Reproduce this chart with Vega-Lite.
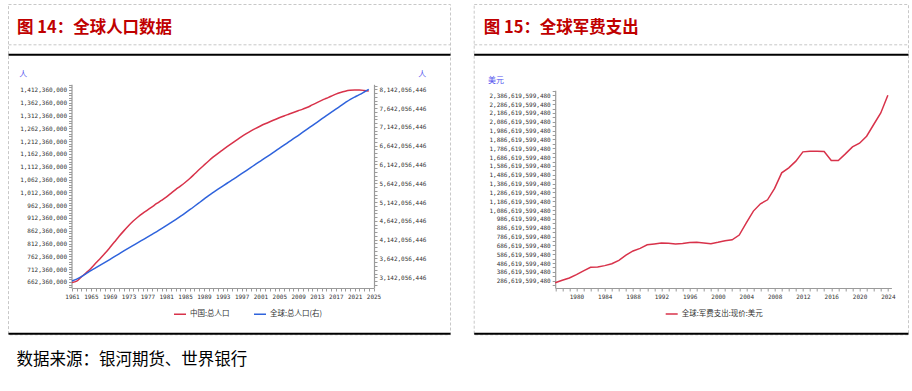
{
  "$schema": "https://vega.github.io/schema/vega-lite/v6.json",
  "background": "white",
  "padding": {"left": 7, "top": 3, "right": 0, "bottom": 24},
  "title": {"text": "数据来源：银河期货、世界银行", "orient": "bottom", "anchor": "start", "frame": "bounds", "offset": 17, "dx": 9, "font": "Noto Sans CJK SC", "fontSize": 16.5, "fontWeight": "normal", "color": "#000000"},
  "config": {
    "view": {"stroke": null},
    "axis": {
      "grid": false,
      "labelFont": "DejaVu Sans Mono",
      "labelFontSize": 6,
      "labelColor": "#333333",
      "domainColor": "#9a9a9a",
      "domainWidth": 1.2,
      "tickColor": "#9a9a9a",
      "tickSize": 3,
      "labelPadding": 2,
      "labelOverlap": false,
      "labelFlush": false,
      "labelBound": false,
      "titleFont": "Noto Sans CJK SC",
      "titleFontSize": 8,
      "titleFontWeight": "normal",
      "titleColor": "#5555ee",
      "titleAngle": 0,
      "titleAlign": "center",
      "titleBaseline": "middle"
    },
    "legend": {
      "title": null,
      "symbolType": "stroke",
      "symbolStrokeWidth": 1.5,
      "symbolSize": 144,
      "labelFont": "Noto Sans CJK SC",
      "labelFontSize": 7.5,
      "labelColor": "#333333",
      "labelOffset": 3,
      "columnPadding": 21
    }
  },
  "datasets": {
    "china": [
      {"year": 1961, "series": "中国:总人口", "value": 660330000},
      {"year": 1962, "series": "中国:总人口", "value": 665770000},
      {"year": 1963, "series": "中国:总人口", "value": 682340000},
      {"year": 1964, "series": "中国:总人口", "value": 698360000},
      {"year": 1965, "series": "中国:总人口", "value": 715190000},
      {"year": 1966, "series": "中国:总人口", "value": 735400000},
      {"year": 1967, "series": "中国:总人口", "value": 754550000},
      {"year": 1968, "series": "中国:总人口", "value": 774510000},
      {"year": 1969, "series": "中国:总人口", "value": 796030000},
      {"year": 1970, "series": "中国:总人口", "value": 818320000},
      {"year": 1971, "series": "中国:总人口", "value": 841110000},
      {"year": 1972, "series": "中国:总人口", "value": 862030000},
      {"year": 1973, "series": "中国:总人口", "value": 881940000},
      {"year": 1974, "series": "中国:总人口", "value": 900350000},
      {"year": 1975, "series": "中国:总人口", "value": 916400000},
      {"year": 1976, "series": "中国:总人口", "value": 930690000},
      {"year": 1977, "series": "中国:总人口", "value": 943460000},
      {"year": 1978, "series": "中国:总人口", "value": 956170000},
      {"year": 1979, "series": "中国:总人口", "value": 969010000},
      {"year": 1980, "series": "中国:总人口", "value": 981240000},
      {"year": 1981, "series": "中国:总人口", "value": 993890000},
      {"year": 1982, "series": "中国:总人口", "value": 1008630000},
      {"year": 1983, "series": "中国:总人口", "value": 1023310000},
      {"year": 1984, "series": "中国:总人口", "value": 1036830000},
      {"year": 1985, "series": "中国:总人口", "value": 1051040000},
      {"year": 1986, "series": "中国:总人口", "value": 1066790000},
      {"year": 1987, "series": "中国:总人口", "value": 1084040000},
      {"year": 1988, "series": "中国:总人口", "value": 1101630000},
      {"year": 1989, "series": "中国:总人口", "value": 1118650000},
      {"year": 1990, "series": "中国:总人口", "value": 1135190000},
      {"year": 1991, "series": "中国:总人口", "value": 1150780000},
      {"year": 1992, "series": "中国:总人口", "value": 1164970000},
      {"year": 1993, "series": "中国:总人口", "value": 1178440000},
      {"year": 1994, "series": "中国:总人口", "value": 1191840000},
      {"year": 1995, "series": "中国:总人口", "value": 1204860000},
      {"year": 1996, "series": "中国:总人口", "value": 1217550000},
      {"year": 1997, "series": "中国:总人口", "value": 1230080000},
      {"year": 1998, "series": "中国:总人口", "value": 1241940000},
      {"year": 1999, "series": "中国:总人口", "value": 1252740000},
      {"year": 2000, "series": "中国:总人口", "value": 1262650000},
      {"year": 2001, "series": "中国:总人口", "value": 1271850000},
      {"year": 2002, "series": "中国:总人口", "value": 1280400000},
      {"year": 2003, "series": "中国:总人口", "value": 1288400000},
      {"year": 2004, "series": "中国:总人口", "value": 1296080000},
      {"year": 2005, "series": "中国:总人口", "value": 1303720000},
      {"year": 2006, "series": "中国:总人口", "value": 1311020000},
      {"year": 2007, "series": "中国:总人口", "value": 1317890000},
      {"year": 2008, "series": "中国:总人口", "value": 1324660000},
      {"year": 2009, "series": "中国:总人口", "value": 1331260000},
      {"year": 2010, "series": "中国:总人口", "value": 1337710000},
      {"year": 2011, "series": "中国:总人口", "value": 1345040000},
      {"year": 2012, "series": "中国:总人口", "value": 1354190000},
      {"year": 2013, "series": "中国:总人口", "value": 1363240000},
      {"year": 2014, "series": "中国:总人口", "value": 1371860000},
      {"year": 2015, "series": "中国:总人口", "value": 1379860000},
      {"year": 2016, "series": "中国:总人口", "value": 1387790000},
      {"year": 2017, "series": "中国:总人口", "value": 1396220000},
      {"year": 2018, "series": "中国:总人口", "value": 1402760000},
      {"year": 2019, "series": "中国:总人口", "value": 1407750000},
      {"year": 2020, "series": "中国:总人口", "value": 1411100000},
      {"year": 2021, "series": "中国:总人口", "value": 1412360000},
      {"year": 2022, "series": "中国:总人口", "value": 1412180000},
      {"year": 2023, "series": "中国:总人口", "value": 1410710000},
      {"year": 2024, "series": "中国:总人口", "value": 1408280000}
    ],
    "world": [
      {"year": 1961, "series": "全球:总人口(右)", "value": 3045000000},
      {"year": 1962, "series": "全球:总人口(右)", "value": 3095000000},
      {"year": 1963, "series": "全球:总人口(右)", "value": 3160000000},
      {"year": 1964, "series": "全球:总人口(右)", "value": 3240000000},
      {"year": 1965, "series": "全球:总人口(右)", "value": 3320000000},
      {"year": 1966, "series": "全球:总人口(右)", "value": 3392000000},
      {"year": 1967, "series": "全球:总人口(右)", "value": 3465000000},
      {"year": 1968, "series": "全球:总人口(右)", "value": 3539000000},
      {"year": 1969, "series": "全球:总人口(右)", "value": 3614000000},
      {"year": 1970, "series": "全球:总人口(右)", "value": 3690000000},
      {"year": 1971, "series": "全球:总人口(右)", "value": 3766000000},
      {"year": 1972, "series": "全球:总人口(右)", "value": 3842000000},
      {"year": 1973, "series": "全球:总人口(右)", "value": 3917000000},
      {"year": 1974, "series": "全球:总人口(右)", "value": 3991000000},
      {"year": 1975, "series": "全球:总人口(右)", "value": 4065000000},
      {"year": 1976, "series": "全球:总人口(右)", "value": 4138000000},
      {"year": 1977, "series": "全球:总人口(右)", "value": 4211000000},
      {"year": 1978, "series": "全球:总人口(右)", "value": 4285000000},
      {"year": 1979, "series": "全球:总人口(右)", "value": 4359000000},
      {"year": 1980, "series": "全球:总人口(右)", "value": 4435000000},
      {"year": 1981, "series": "全球:总人口(右)", "value": 4514000000},
      {"year": 1982, "series": "全球:总人口(右)", "value": 4596000000},
      {"year": 1983, "series": "全球:总人口(右)", "value": 4679000000},
      {"year": 1984, "series": "全球:总人口(右)", "value": 4764000000},
      {"year": 1985, "series": "全球:总人口(右)", "value": 4850000000},
      {"year": 1986, "series": "全球:总人口(右)", "value": 4939000000},
      {"year": 1987, "series": "全球:总人口(右)", "value": 5031000000},
      {"year": 1988, "series": "全球:总人口(右)", "value": 5125000000},
      {"year": 1989, "series": "全球:总人口(右)", "value": 5220000000},
      {"year": 1990, "series": "全球:总人口(右)", "value": 5315000000},
      {"year": 1991, "series": "全球:总人口(右)", "value": 5401000000},
      {"year": 1992, "series": "全球:总人口(右)", "value": 5485000000},
      {"year": 1993, "series": "全球:总人口(右)", "value": 5568000000},
      {"year": 1994, "series": "全球:总人口(右)", "value": 5650000000},
      {"year": 1995, "series": "全球:总人口(右)", "value": 5730000000},
      {"year": 1996, "series": "全球:总人口(右)", "value": 5813000000},
      {"year": 1997, "series": "全球:总人口(右)", "value": 5896000000},
      {"year": 1998, "series": "全球:总人口(右)", "value": 5980000000},
      {"year": 1999, "series": "全球:总人口(右)", "value": 6065000000},
      {"year": 2000, "series": "全球:总人口(右)", "value": 6150000000},
      {"year": 2001, "series": "全球:总人口(右)", "value": 6233000000},
      {"year": 2002, "series": "全球:总人口(右)", "value": 6316000000},
      {"year": 2003, "series": "全球:总人口(右)", "value": 6400000000},
      {"year": 2004, "series": "全球:总人口(右)", "value": 6485000000},
      {"year": 2005, "series": "全球:总人口(右)", "value": 6570000000},
      {"year": 2006, "series": "全球:总人口(右)", "value": 6655000000},
      {"year": 2007, "series": "全球:总人口(右)", "value": 6741000000},
      {"year": 2008, "series": "全球:总人口(右)", "value": 6827000000},
      {"year": 2009, "series": "全球:总人口(右)", "value": 6913000000},
      {"year": 2010, "series": "全球:总人口(右)", "value": 7000000000},
      {"year": 2011, "series": "全球:总人口(右)", "value": 7088000000},
      {"year": 2012, "series": "全球:总人口(右)", "value": 7177000000},
      {"year": 2013, "series": "全球:总人口(右)", "value": 7265000000},
      {"year": 2014, "series": "全球:总人口(右)", "value": 7353000000},
      {"year": 2015, "series": "全球:总人口(右)", "value": 7440000000},
      {"year": 2016, "series": "全球:总人口(右)", "value": 7527000000},
      {"year": 2017, "series": "全球:总人口(右)", "value": 7613000000},
      {"year": 2018, "series": "全球:总人口(右)", "value": 7699000000},
      {"year": 2019, "series": "全球:总人口(右)", "value": 7785000000},
      {"year": 2020, "series": "全球:总人口(右)", "value": 7870000000},
      {"year": 2021, "series": "全球:总人口(右)", "value": 7935000000},
      {"year": 2022, "series": "全球:总人口(右)", "value": 8000000000},
      {"year": 2023, "series": "全球:总人口(右)", "value": 8070000000},
      {"year": 2024, "series": "全球:总人口(右)", "value": 8142056446}
    ],
    "mil": [
      {"year": 1977, "series": "全球:军费支出:现价:美元", "value": 264000000000},
      {"year": 1978, "series": "全球:军费支出:现价:美元", "value": 291100000000},
      {"year": 1979, "series": "全球:军费支出:现价:美元", "value": 317200000000},
      {"year": 1980, "series": "全球:军费支出:现价:美元", "value": 355600000000},
      {"year": 1981, "series": "全球:军费支出:现价:美元", "value": 397500000000},
      {"year": 1982, "series": "全球:军费支出:现价:美元", "value": 438200000000},
      {"year": 1983, "series": "全球:军费支出:现价:美元", "value": 441600000000},
      {"year": 1984, "series": "全球:军费支出:现价:美元", "value": 457400000000},
      {"year": 1985, "series": "全球:军费支出:现价:美元", "value": 478900000000},
      {"year": 1986, "series": "全球:军费支出:现价:美元", "value": 517400000000},
      {"year": 1987, "series": "全球:军费支出:现价:美元", "value": 576200000000},
      {"year": 1988, "series": "全球:军费支出:现价:美元", "value": 623700000000},
      {"year": 1989, "series": "全球:军费支出:现价:美元", "value": 653100000000},
      {"year": 1990, "series": "全球:军费支出:现价:美元", "value": 692700000000},
      {"year": 1991, "series": "全球:军费支出:现价:美元", "value": 702900000000},
      {"year": 1992, "series": "全球:军费支出:现价:美元", "value": 713100000000},
      {"year": 1993, "series": "全球:军费支出:现价:美元", "value": 709700000000},
      {"year": 1994, "series": "全球:军费支出:现价:美元", "value": 701800000000},
      {"year": 1995, "series": "全球:军费支出:现价:美元", "value": 707400000000},
      {"year": 1996, "series": "全球:军费支出:现价:美元", "value": 718700000000},
      {"year": 1997, "series": "全球:军费支出:现价:美元", "value": 721000000000},
      {"year": 1998, "series": "全球:军费支出:现价:美元", "value": 714200000000},
      {"year": 1999, "series": "全球:军费支出:现价:美元", "value": 705200000000},
      {"year": 2000, "series": "全球:军费支出:现价:美元", "value": 721000000000},
      {"year": 2001, "series": "全球:军费支出:现价:美元", "value": 739100000000},
      {"year": 2002, "series": "全球:军费支出:现价:美元", "value": 750400000000},
      {"year": 2003, "series": "全球:军费支出:现价:美元", "value": 803600000000},
      {"year": 2004, "series": "全球:军费支出:现价:美元", "value": 942700000000},
      {"year": 2005, "series": "全球:军费支出:现价:美元", "value": 1075100000000},
      {"year": 2006, "series": "全球:军费支出:现价:美元", "value": 1157600000000},
      {"year": 2007, "series": "全球:军费支出:现价:美元", "value": 1202900000000},
      {"year": 2008, "series": "全球:军费支出:现价:美元", "value": 1331800000000},
      {"year": 2009, "series": "全球:军费支出:现价:美元", "value": 1508300000000},
      {"year": 2010, "series": "全球:军费支出:现价:美元", "value": 1564900000000},
      {"year": 2011, "series": "全球:军费支出:现价:美元", "value": 1640600000000},
      {"year": 2012, "series": "全球:军费支出:现价:美元", "value": 1745900000000},
      {"year": 2013, "series": "全球:军费支出:现价:美元", "value": 1753800000000},
      {"year": 2014, "series": "全球:军费支出:现价:美元", "value": 1751500000000},
      {"year": 2015, "series": "全球:军费支出:现价:美元", "value": 1750400000000},
      {"year": 2016, "series": "全球:军费支出:现价:美元", "value": 1648600000000},
      {"year": 2017, "series": "全球:军费支出:现价:美元", "value": 1648600000000},
      {"year": 2018, "series": "全球:军费支出:现价:美元", "value": 1723200000000},
      {"year": 2019, "series": "全球:军费支出:现价:美元", "value": 1802400000000},
      {"year": 2020, "series": "全球:军费支出:现价:美元", "value": 1844300000000},
      {"year": 2021, "series": "全球:军费支出:现价:美元", "value": 1923500000000},
      {"year": 2022, "series": "全球:军费支出:现价:美元", "value": 2055900000000},
      {"year": 2023, "series": "全球:军费支出:现价:美元", "value": 2187100000000},
      {"year": 2024, "series": "全球:军费支出:现价:美元", "value": 2386619599480}
    ]
  },
  "hconcat": [
    {
      "width": 442, "height": 330.3,
      "view": {"stroke": "#c8c8c8", "strokeDash": [3, 2], "strokeWidth": 1},
      "title": {"text": "图 14：全球人口数据", "orient": "top", "anchor": "start", "frame": "group", "offset": -33, "dx": 9, "font": "Noto Sans CJK SC", "fontSize": 16.5, "fontWeight": "bold", "color": "#c00000"},
      "layer": [
        {
          "data": {"values": []},
          "mark": "rule",
          "encoding": {"x": {"field": "d", "type": "quantitative", "scale": {"domain": [0, 1]}, "axis": {"orient": "top", "offset": -40.3, "domainColor": "#c8c8c8", "domainWidth": 1, "domainDash": [3, 2], "ticks": false, "labels": false, "title": null}}}
        },
        {
          "data": {"values": []},
          "mark": "rule",
          "encoding": {"x": {"field": "d2", "type": "quantitative", "scale": {"domain": [0, 1]}, "axis": {"orient": "top", "offset": -50.3, "domainColor": "#000000", "domainWidth": 2, "ticks": false, "labels": false, "title": null}}}
        },
        {
          "data": {"values": []},
          "mark": "rule",
          "encoding": {"x": {"field": "d3", "type": "quantitative", "scale": {"domain": [0, 1]}, "axis": {"orient": "bottom", "offset": -1, "domainColor": "#000000", "domainWidth": 2, "ticks": false, "labels": false, "title": null}}}
        },
        {
          "data": {"name": "china"},
          "mark": {"type": "line", "interpolate": "monotone", "strokeWidth": 1.5},
          "encoding": {
            "x": {"field": "year", "type": "quantitative", "scale": {"domain": [1961, 2025], "range": [64, 365.5], "nice": false, "zero": false},
              "axis": {"orient": "bottom", "offset": -46.3, "title": null, "format": "d",
                "values": [1961,1962,1963,1964,1965,1966,1967,1968,1969,1970,1971,1972,1973,1974,1975,1976,1977,1978,1979,1980,1981,1982,1983,1984,1985,1986,1987,1988,1989,1990,1991,1992,1993,1994,1995,1996,1997,1998,1999,2000,2001,2002,2003,2004,2005,2006,2007,2008,2009,2010,2011,2012,2013,2014,2015,2016,2017,2018,2019,2020,2021,2022,2023,2024,2025],
                "labelExpr": "(datum.value - 1961) % 4 == 0 ? datum.label : ''", "labelPadding": 3}},
            "y": {"field": "value", "type": "quantitative", "scale": {"domain": [638900000, 1434600000], "range": [284, 80.3], "nice": false, "zero": false},
              "axis": {"orient": "left", "offset": -63.5, "format": ",d",
                "values": [642360000,652360000,662360000,672360000,682360000,692360000,702360000,712360000,722360000,732360000,742360000,752360000,762360000,772360000,782360000,792360000,802360000,812360000,822360000,832360000,842360000,852360000,862360000,872360000,882360000,892360000,902360000,912360000,922360000,932360000,942360000,952360000,962360000,972360000,982360000,992360000,1002360000,1012360000,1022360000,1032360000,1042360000,1052360000,1062360000,1072360000,1082360000,1092360000,1102360000,1112360000,1122360000,1132360000,1142360000,1152360000,1162360000,1172360000,1182360000,1192360000,1202360000,1212360000,1222360000,1232360000,1242360000,1252360000,1262360000,1272360000,1282360000,1292360000,1302360000,1312360000,1322360000,1332360000,1342360000,1352360000,1362360000,1372360000,1382360000,1392360000,1402360000,1412360000,1422360000,1432360000],
                "labelExpr": "(datum.value - 662360000) % 50000000 == 0 ? datum.label : ''",
                "title": "人", "titleX": -48.8, "titleY": 70.3}},
            "color": {"field": "series", "type": "nominal", "scale": {"domain": ["中国:总人口", "全球:总人口(右)"], "range": ["#d8324a", "#2f63dc"]},
              "legend": {"orient": "none", "legendX": 165, "legendY": 303, "direction": "horizontal"}}
          }
        },
        {
          "data": {"name": "world"},
          "mark": {"type": "line", "interpolate": "monotone", "strokeWidth": 1.5},
          "encoding": {
            "x": {"field": "year", "type": "quantitative", "scale": {"domain": [1961, 2025], "range": [64, 365.5], "nice": false, "zero": false}, "axis": null},
            "y": {"field": "value", "type": "quantitative", "scale": {"domain": [2857400000, 8275000000], "range": [284, 80.3], "nice": false, "zero": false},
              "axis": {"orient": "right", "offset": -76, "format": ",d",
                "values": [2942056446,3042056446,3142056446,3242056446,3342056446,3442056446,3542056446,3642056446,3742056446,3842056446,3942056446,4042056446,4142056446,4242056446,4342056446,4442056446,4542056446,4642056446,4742056446,4842056446,4942056446,5042056446,5142056446,5242056446,5342056446,5442056446,5542056446,5642056446,5742056446,5842056446,5942056446,6042056446,6142056446,6242056446,6342056446,6442056446,6542056446,6642056446,6742056446,6842056446,6942056446,7042056446,7142056446,7242056446,7342056446,7442056446,7542056446,7642056446,7742056446,7842056446,7942056446,8042056446,8142056446,8242056446],
                "labelExpr": "(datum.value - 3142056446) % 500000000 == 0 ? datum.label : ''",
                "title": "人", "titleX": 47.7, "titleY": 70.3}},
            "color": {"field": "series", "type": "nominal"}
          }
        }
      ],
      "resolve": {"scale": {"x": "independent", "y": "independent"}, "axis": {"x": "independent", "y": "independent"}}
    },
    {
      "width": 434.3, "height": 330.3,
      "view": {"stroke": "#c8c8c8", "strokeDash": [3, 2], "strokeWidth": 1},
      "title": {"text": "图 15：全球军费支出", "orient": "top", "anchor": "start", "frame": "group", "offset": -33, "dx": 10, "font": "Noto Sans CJK SC", "fontSize": 16.5, "fontWeight": "bold", "color": "#c00000"},
      "layer": [
        {
          "data": {"values": []},
          "mark": "rule",
          "encoding": {"x": {"field": "d", "type": "quantitative", "scale": {"domain": [0, 1]}, "axis": {"orient": "top", "offset": -40.3, "domainColor": "#c8c8c8", "domainWidth": 1, "domainDash": [3, 2], "ticks": false, "labels": false, "title": null}}}
        },
        {
          "data": {"values": []},
          "mark": "rule",
          "encoding": {"x": {"field": "d2", "type": "quantitative", "scale": {"domain": [0, 1]}, "axis": {"orient": "top", "offset": -50.3, "domainColor": "#000000", "domainWidth": 2, "ticks": false, "labels": false, "title": null}}}
        },
        {
          "data": {"values": []},
          "mark": "rule",
          "encoding": {"x": {"field": "d3", "type": "quantitative", "scale": {"domain": [0, 1]}, "axis": {"orient": "bottom", "offset": -1, "domainColor": "#000000", "domainWidth": 2, "ticks": false, "labels": false, "title": null}}}
        },
        {
          "data": {"name": "mil"},
          "mark": {"type": "line", "strokeWidth": 1.5},
          "encoding": {
            "x": {"field": "year", "type": "quantitative", "scale": {"domain": [1977, 2024.5], "range": [81.5, 417.7], "nice": false, "zero": false},
              "axis": {"orient": "bottom", "offset": -46.3, "title": null, "format": "d",
                "values": [1977,1978,1979,1980,1981,1982,1983,1984,1985,1986,1987,1988,1989,1990,1991,1992,1993,1994,1995,1996,1997,1998,1999,2000,2001,2002,2003,2004,2005,2006,2007,2008,2009,2010,2011,2012,2013,2014,2015,2016,2017,2018,2019,2020,2021,2022,2023,2024],
                "labelExpr": "(datum.value - 1980) % 4 == 0 ? datum.label : ''", "labelPadding": 3}},
            "y": {"field": "value", "type": "quantitative", "scale": {"domain": [204000000000, 2443200000000], "range": [284, 86.3], "nice": false, "zero": false},
              "axis": {"orient": "left", "offset": -81.5, "format": ",d",
                "values": [236619599480,286619599480,336619599480,386619599480,436619599480,486619599480,536619599480,586619599480,636619599480,686619599480,736619599480,786619599480,836619599480,886619599480,936619599480,986619599480,1036619599480,1086619599480,1136619599480,1186619599480,1236619599480,1286619599480,1336619599480,1386619599480,1436619599480,1486619599480,1536619599480,1586619599480,1636619599480,1686619599480,1736619599480,1786619599480,1836619599480,1886619599480,1936619599480,1986619599480,2036619599480,2086619599480,2136619599480,2186619599480,2236619599480,2286619599480,2336619599480,2386619599480,2436619599480],
                "labelExpr": "(datum.value - 286619599480) % 100000000000 == 0 ? datum.label : ''",
                "title": "美元", "titleX": -59.7, "titleY": 77}},
            "color": {"field": "series", "type": "nominal", "scale": {"domain": ["全球:军费支出:现价:美元"], "range": ["#d8324a"]},
              "legend": {"orient": "none", "legendX": 191, "legendY": 303, "direction": "horizontal"}}
          }
        }
      ],
      "resolve": {"scale": {"x": "independent"}, "axis": {"x": "independent"}}
    }
  ],
  "spacing": 21.7,
  "resolve": {"scale": {"color": "independent"}, "legend": {"color": "independent"}}
}
